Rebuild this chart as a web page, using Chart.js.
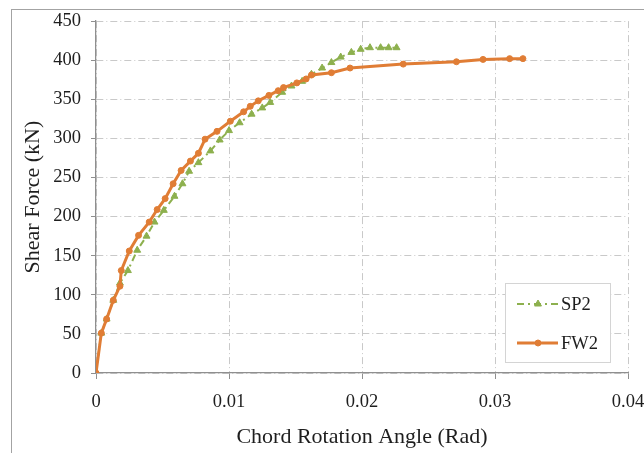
<!DOCTYPE html>
<html>
<head>
<meta charset="utf-8">
<script src="https://cdn.jsdelivr.net/npm/chart.js@4.4.1/dist/chart.umd.min.js"></script>
<style>
  html, body { margin: 0; padding: 0; background: #fff; overflow: hidden; width: 644px; height: 453px; }
  #frame { position: absolute; left: 11px; top: 9px; width: 720px; height: 520px; border: 1.5px solid #a3a3a3; }
  #c { position: absolute; left: 0; top: 0; }
</style>
</head>
<body>
<div id="frame"></div>
<canvas id="c" width="690" height="453"></canvas>
<script>
// Shear force vs. chord rotation for the two test specimens
const seriesNames = ['SP2', 'FW2'];

const sp2Rotation = [0, 0.0004, 0.0008, 0.0013, 0.0018, 0.0024, 0.0031, 0.0038, 0.0044, 0.0051,
  0.0059, 0.0065, 0.0070, 0.0077, 0.0086, 0.0093, 0.0100, 0.0108, 0.0117, 0.0125,
  0.0131, 0.0140, 0.0147, 0.0155, 0.0162, 0.0170, 0.0177, 0.0184, 0.0192, 0.0199,
  0.0206, 0.0214, 0.0220, 0.0226];
const sp2Shear = [0, 51, 69, 93, 115, 131, 157, 175, 193, 208,
  226, 242, 258, 269, 284, 298, 310, 320, 331, 339,
  346, 359, 367, 373, 382, 390, 397, 404, 410, 414,
  416, 416, 416, 416];

const fw2Rotation = [0, 0.0004, 0.0008, 0.0013, 0.0018, 0.0019, 0.0025, 0.0032, 0.0040, 0.0046,
  0.0052, 0.0058, 0.0064, 0.0071, 0.0077, 0.0082, 0.0091, 0.0101, 0.0111, 0.0116,
  0.0122, 0.0130, 0.0137, 0.0141, 0.0151, 0.0158, 0.0162, 0.0177, 0.0191, 0.0231,
  0.0271, 0.0291, 0.0311, 0.0321];
const fw2Shear = [0, 51, 69, 93, 111, 131, 156, 176, 193, 209,
  223, 242, 259, 271, 281, 299, 309, 322, 334, 341,
  348, 355, 361, 365, 371, 376, 381, 384, 390, 395,
  398, 401, 402, 402];

const xTickLabels = ['0', '0.01', '0.02', '0.03', '0.04'];
const yTickLabels = ['0', '50', '100', '150', '200', '250', '300', '350', '400', '450'];

const toPoints = (xs, ys) => xs.map((x, i) => ({ x: x, y: ys[i] }));

const GREEN = '#8db04e';
const ORANGE = '#e07d35';
const GRID = '#c9c9c9';
const AXIS = '#8f8f8f';
const TEXT = '#1e1e1e';
const SERIF = '"Liberation Serif", "Times New Roman", serif';

Chart.defaults.font.family = SERIF;
Chart.defaults.color = TEXT;

// Legend box drawn inside the plot, lower right, using each dataset's own styling
const insideLegend = {
  id: 'insideLegend',
  afterDraw(chart) {
    const ctx = chart.ctx;
    const bx = 505.5, by = 283.5, bw = 105, bh = 79;
    const rows = [304, 343];
    ctx.save();
    ctx.fillStyle = '#ffffff';
    ctx.fillRect(bx, by, bw, bh);
    ctx.strokeStyle = '#d4d4d4';
    ctx.lineWidth = 1;
    ctx.strokeRect(bx, by, bw, bh);
    chart.data.datasets.forEach((d, i) => {
      const y = rows[i];
      ctx.save();
      ctx.strokeStyle = d.borderColor;
      ctx.lineWidth = d.borderWidth;
      ctx.setLineDash(d.borderDash || []);
      ctx.beginPath();
      ctx.moveTo(517, y);
      ctx.lineTo(558, y);
      ctx.stroke();
      ctx.restore();

      ctx.save();
      ctx.fillStyle = d.backgroundColor;
      ctx.strokeStyle = d.borderColor;
      ctx.lineWidth = 1;
      ctx.setLineDash([]);
      Chart.helpers.drawPoint(ctx, {
        pointStyle: d.pointStyle,
        radius: d.pointRadius,
        borderWidth: 1,
        rotation: 0
      }, 538, y);
      ctx.restore();

      ctx.fillStyle = TEXT;
      ctx.font = '18.5px ' + SERIF;
      ctx.textBaseline = 'middle';
      ctx.textAlign = 'left';
      ctx.fillText(d.label, 561, y + 1);
    });
    ctx.restore();
  }
};

new Chart(document.getElementById('c'), {
  type: 'scatter',
  data: {
    datasets: [
      {
        label: seriesNames[0],
        data: toPoints(sp2Rotation, sp2Shear),
        showLine: true,
        borderColor: GREEN,
        backgroundColor: GREEN,
        borderWidth: 2,
        borderDash: [7, 4, 2, 4],
        pointStyle: 'triangle',
        pointRadius: 4,
        pointBorderWidth: 1,
        tension: 0,
        order: 2
      },
      {
        label: seriesNames[1],
        data: toPoints(fw2Rotation, fw2Shear),
        showLine: true,
        borderColor: ORANGE,
        backgroundColor: ORANGE,
        borderWidth: 3,
        pointStyle: 'circle',
        pointRadius: 3,
        pointBorderWidth: 1,
        tension: 0,
        order: 1
      }
    ]
  },
  options: {
    responsive: false,
    animation: false,
    layout: { padding: { left: 0, top: 20, right: 62, bottom: 0 } },
    plugins: {
      legend: { display: false },
      tooltip: { enabled: false }
    },
    scales: {
      x: {
        type: 'linear',
        min: 0,
        max: 0.04,
        afterBuildTicks(scale) {
          scale.ticks = xTickLabels.map(t => ({ value: parseFloat(t) }));
        },
        afterFit(scale) { scale.height = 80; },
        ticks: {
          padding: 12,
          font: { size: 18.5 },
          color: TEXT,
          maxRotation: 0,
          callback: (v, i) => xTickLabels[i]
        },
        grid: {
          color: GRID,
          lineWidth: 1,
          tickLength: 6,
          tickColor: AXIS,
          tickBorderDash: []
        },
        border: { display: true, color: AXIS, width: 1.3, dash: [7, 3, 1, 3] },
        title: {
          display: true,
          text: 'Chord Rotation Angle (Rad)',
          font: { size: 22 },
          color: TEXT,
          padding: { top: 0, bottom: 3 }
        }
      },
      y: {
        type: 'linear',
        min: 0,
        max: 450,
        afterBuildTicks(scale) {
          scale.ticks = yTickLabels.map(t => ({ value: parseFloat(t) }));
        },
        afterFit(scale) { scale.width = 96; },
        ticks: {
          padding: 10,
          font: { size: 18.5 },
          color: TEXT,
          callback: (v, i) => yTickLabels[i]
        },
        grid: {
          color: GRID,
          lineWidth: 1,
          tickLength: 5,
          tickColor: AXIS,
          tickBorderDash: []
        },
        border: { display: true, color: AXIS, width: 1.3, dash: [7, 3, 1, 3] },
        title: {
          display: true,
          text: 'Shear Force (kN)',
          font: { size: 22 },
          color: TEXT,
          padding: { top: 20, bottom: 0 }
        }
      }
    }
  },
  plugins: [insideLegend]
});
</script>
</body>
</html>
